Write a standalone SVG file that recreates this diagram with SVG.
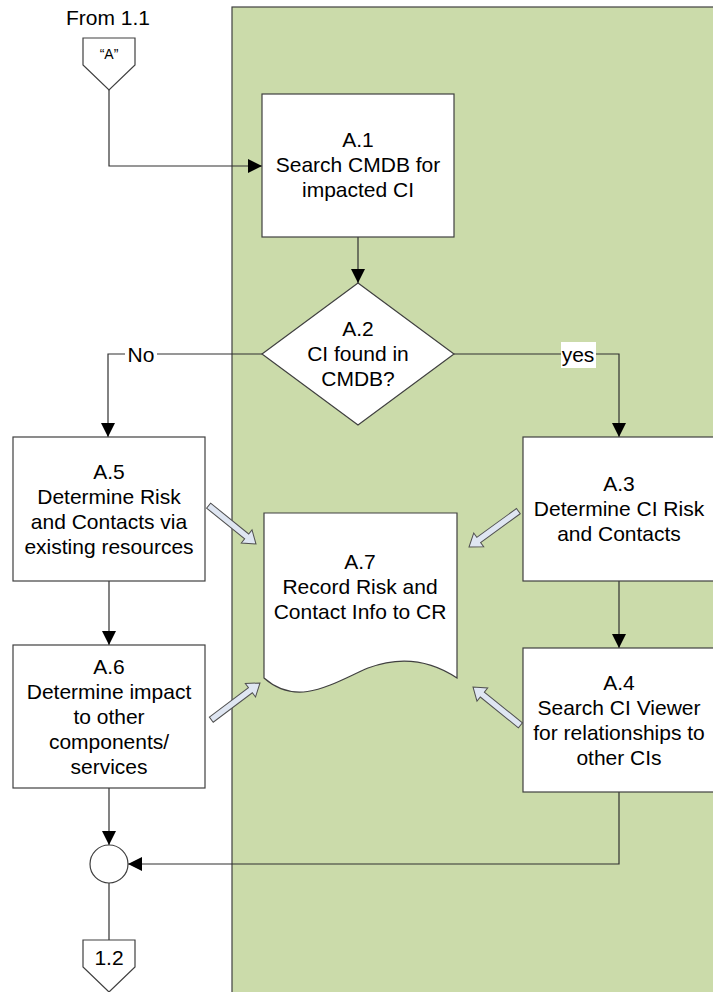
<svg xmlns="http://www.w3.org/2000/svg" xmlns:xlink="http://www.w3.org/1999/xlink" width="713" height="992" viewBox="0 0 713 992">
  <style>
    text { font-family: "Liberation Sans", Arial, sans-serif; font-size: 21px; fill: #000; text-anchor: middle; }
    .box { fill: #fff; stroke: #404040; stroke-width: 1.2; }
    .wire { fill: none; stroke: #303030; stroke-width: 1.2; }
    .fat { fill: #dfe6f2; stroke: #505050; stroke-width: 1; }
    .lane { fill: #cbdbaa; stroke: #404040; stroke-width: 1.2; }
  </style>
  <defs>
    <marker id="arrow" markerUnits="userSpaceOnUse" markerWidth="15" markerHeight="14" refX="14" refY="7" orient="auto">
      <path d="M0,0 L14,7 L0,14 Z" fill="#000"/>
    </marker>
    <!-- hollow block arrow pointing along +x, tip at origin -->
    <path id="fat" d="M-61,-3.2 L-12,-3.2 L-12,-8.5 L0,0 L-12,8.5 L-12,3.2 L-61,3.2 Z"/>
  </defs>

  <!-- swimlane background -->
  <rect class="lane" x="232" y="7" width="490" height="995"/>

  <!-- connectors -->
  <g id="connectors">
    <path class="wire" d="M109,90 V166 H262" marker-end="url(#arrow)"/>
    <path class="wire" d="M358,237 V283" marker-end="url(#arrow)"/>
    <path class="wire" d="M262,354 H108 V437" marker-end="url(#arrow)"/>
    <path class="wire" d="M454,354 H619 V437" marker-end="url(#arrow)"/>
    <path class="wire" d="M619,581 V648" marker-end="url(#arrow)"/>
    <path class="wire" d="M109,581 V645" marker-end="url(#arrow)"/>
    <path class="wire" d="M109,788 V845" marker-end="url(#arrow)"/>
    <path class="wire" d="M619,792 V864 H128" marker-end="url(#arrow)"/>
    <path class="wire" d="M109,883 V940"/>
    <g id="label-no">
      <rect x="125" y="342" width="32" height="24" fill="#fff"/>
      <text x="141" y="362">No</text>
    </g>
    <g id="label-yes">
      <rect x="561" y="342" width="35" height="26" fill="#fff"/>
      <text x="578" y="362">yes</text>
    </g>
    <!-- data flows into the record -->
    <use href="#fat" class="fat" transform="translate(256,544) rotate(39)"/>
    <use href="#fat" class="fat" transform="translate(260,683) rotate(-37)"/>
    <use href="#fat" class="fat" transform="translate(469,547) rotate(144)"/>
    <use href="#fat" class="fat" transform="translate(473,687) rotate(219)"/>
  </g>

  <g id="from-1-1">
    <text x="108" y="25">From 1.1</text>
    <polygon class="box" points="83,38 135,38 135,65 109,90 83,65"/>
    <text x="109" y="59" style="font-size:14px">“A”</text>
  </g>

  <g id="A1">
    <rect class="box" x="262" y="94" width="192" height="143"/>
    <text x="358" y="147">A.1</text>
    <text x="358" y="172">Search CMDB for</text>
    <text x="358" y="197">impacted CI</text>
  </g>

  <g id="A2">
    <polygon class="box" points="358,283 454,354 358,425 262,354"/>
    <text x="358" y="336">A.2</text>
    <text x="358" y="361">CI found in</text>
    <text x="358" y="386">CMDB?</text>
  </g>

  <g id="A5">
    <rect class="box" x="13" y="437" width="192" height="144"/>
    <text x="109" y="479">A.5</text>
    <text x="109" y="504">Determine Risk</text>
    <text x="109" y="529">and Contacts via</text>
    <text x="109" y="554">existing resources</text>
  </g>

  <g id="A6">
    <rect class="box" x="13" y="645" width="192" height="143"/>
    <text x="109" y="674">A.6</text>
    <text x="109" y="699">Determine impact</text>
    <text x="109" y="724">to other</text>
    <text x="109" y="749">components/</text>
    <text x="109" y="774">services</text>
  </g>

  <g id="A3">
    <rect class="box" x="523" y="437" width="192" height="144"/>
    <text x="619" y="491">A.3</text>
    <text x="619" y="516">Determine CI Risk</text>
    <text x="619" y="541">and Contacts</text>
  </g>

  <g id="A4">
    <rect class="box" x="523" y="648" width="192" height="144"/>
    <text x="619" y="690">A.4</text>
    <text x="619" y="715">Search CI Viewer</text>
    <text x="619" y="740">for relationships to</text>
    <text x="619" y="765">other CIs</text>
  </g>

  <g id="A7">
    <path class="box" d="M264,513 H457 V678 C430,660 400,656 368,668 C333,683 298,708 264,678 Z"/>
    <text x="360" y="569">A.7</text>
    <text x="360" y="594">Record Risk and</text>
    <text x="360" y="619">Contact Info to CR</text>
  </g>

  <g id="merge">
    <circle class="box" cx="109" cy="864" r="19"/>
  </g>

  <g id="to-1-2">
    <polygon class="box" points="83,940 135,940 135,967 109,992 83,967"/>
    <text x="109" y="965">1.2</text>
  </g>
</svg>
